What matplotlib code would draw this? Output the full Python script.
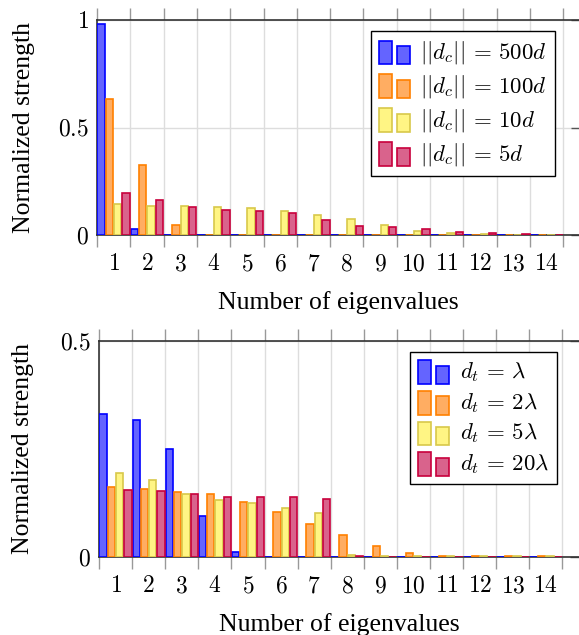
import numpy as np
import matplotlib
matplotlib.use('Agg')
import matplotlib.pyplot as plt
from matplotlib.patches import Rectangle
from matplotlib.legend_handler import HandlerBase

plt.rcParams['mathtext.fontset'] = 'cm'
plt.rcParams['font.family'] = ['Liberation Serif', 'DejaVu Serif']

# eigenvalue index
idx = np.arange(1, 15)

# top panel: different ||d_c||
dc_500 = [0.98, 0.026, 0.002, 0.001, 0.001, 0.001, 0.001, 0.001, 0.001, 0.001, 0.001, 0.001, 0.001, 0.001]
dc_100 = [0.631, 0.326, 0.048, 0.002, 0.002, 0.002, 0.002, 0.002, 0.002, 0.002, 0.002, 0.002, 0.002, 0.002]
dc_10 = [0.144, 0.136, 0.133, 0.130, 0.124, 0.112, 0.095, 0.074, 0.045, 0.017, 0.008, 0.003, 0.002, 0.002]
dc_5 = [0.197, 0.163, 0.129, 0.116, 0.112, 0.101, 0.070, 0.042, 0.039, 0.026, 0.016, 0.008, 0.003, 0.002]
top_labels = [r'$||d_c||\,=\,500d$', r'$||d_c||\,=\,100d$', r'$||d_c||\,=\,10d$', r'$||d_c||\,=\,5d$']

# bottom panel: different d_t
dt_1 = [0.332, 0.316, 0.249, 0.094, 0.012, 0.001, 0.001, 0.001, 0.001, 0.001, 0.001, 0.001, 0.001, 0.001]
dt_2 = [0.163, 0.158, 0.151, 0.145, 0.127, 0.104, 0.077, 0.050, 0.026, 0.0085, 0.002, 0.002, 0.002, 0.002]
dt_5 = [0.195, 0.179, 0.145, 0.133, 0.125, 0.114, 0.102, 0.005, 0.003, 0.003, 0.002, 0.002, 0.002, 0.002]
dt_20 = [0.154, 0.153, 0.146, 0.140, 0.139, 0.138, 0.135, 0.002, 0.001, 0.001, 0.001, 0.001, 0.001, 0.001]
bottom_labels = [r'$d_t\,=\,\lambda$', r'$d_t\,=\,2\lambda$', r'$d_t\,=\,5\lambda$', r'$d_t\,=\,20\lambda$']

face_colors = ['#6464ff', '#ffad62', '#fff584', '#d9638c']
edge_colors = ['#0000ff', '#ff8000', '#d8c84a', '#c8003c']


class TwoBarHandler(HandlerBase):
    # pgfplots style legend entry: two small bars
    def create_artists(self, legend, orig_handle, xdescent, ydescent,
                       width, height, fontsize, trans):
        fc = orig_handle.get_facecolor()
        ec = orig_handle.get_edgecolor()
        w = width * 0.42
        y0 = -ydescent - height * 0.25
        r1 = Rectangle((-xdescent, y0), w, height * 1.3, facecolor=fc,
                       edgecolor=ec, lw=1.2, transform=trans)
        r2 = Rectangle((-xdescent + width * 0.58, y0), w, height * 1.0,
                       facecolor=fc, edgecolor=ec, lw=1.2, transform=trans)
        return [r1, r2]


def draw_panel(ax, series, labels, ymax, yticks, yticklabels, legend_anchor):
    offsets = [-0.375, -0.125, 0.125, 0.375]
    handles = []
    for vals, off, fc, ec in zip(series, offsets, face_colors, edge_colors):
        bars = ax.bar(idx + off, vals, width=0.22, color=fc, edgecolor=ec,
                      linewidth=1.2, zorder=3)
        handles.append(bars.patches[0])

    ax.set_xlim(0.5, 15.0)
    ax.set_ylim(0, ymax)

    # grid lines / tick marks between groups, labels at group centres
    ax.set_xticks(np.arange(0.5, 15.0, 1.0))
    ax.set_xticklabels([])
    ax.set_xticks(idx, minor=True)
    ax.set_xticklabels(['$%d$' % i for i in idx], minor=True, fontsize=17)
    ax.tick_params(axis='x', which='major', direction='out', length=8.5,
                   width=1.0, color='#999999', top=True, bottom=True)
    ax.tick_params(axis='x', which='minor', length=0, pad=14)

    ax.set_yticks(yticks)
    ax.set_yticklabels(yticklabels, fontsize=17)
    ax.tick_params(axis='y', direction='in', length=6.5, width=1.0,
                   color='#555555', left=False, right=True, pad=6)

    ax.grid(True, axis='x', which='major', color='#dddddd', lw=1.0, zorder=0)
    ax.grid(True, axis='y', color='#dddddd', lw=1.0, zorder=0)
    ax.set_axisbelow(True)

    ax.spines['right'].set_visible(False)
    for s in ['top', 'bottom', 'left']:
        ax.spines[s].set_color('#333333')
        ax.spines[s].set_linewidth(1.2)

    ax.set_xlabel('Number of eigenvalues', fontsize=18.5, labelpad=11)
    ax.set_ylabel('Normalized strength', fontsize=18.5, va='center')

    leg = ax.legend(handles, labels, handler_map={Rectangle: TwoBarHandler()},
                    loc='upper right', bbox_to_anchor=legend_anchor,
                    bbox_transform=ax.transAxes, fontsize=16.5, fancybox=False,
                    framealpha=1, edgecolor='black', handlelength=1.35,
                    handleheight=0.85, handletextpad=0.45, labelspacing=0.3,
                    borderpad=0.35, borderaxespad=0)
    leg.get_frame().set_linewidth(1.0)
    return ax


fig = plt.figure(figsize=(5.79, 6.35), dpi=100)

ax1 = fig.add_axes([97 / 579, 400 / 635, 483 / 579, 215 / 635])
draw_panel(ax1, [dc_500, dc_100, dc_10, dc_5], top_labels, 1.0,
           [0, 0.5, 1], ['$0$', '$0.5$', '$1$'],
           ((555 - 97) / 483, (235 - 31) / 215))
ax1.yaxis.set_label_coords((24 - 97) / 483, 0.5)

ax2 = fig.add_axes([99 / 579, 78 / 635, 480 / 579, 216 / 635])
draw_panel(ax2, [dt_1, dt_2, dt_5, dt_20], bottom_labels, 0.5,
           [0, 0.5], ['$0$', '$0.5$'],
           ((557 - 99) / 480, (557 - 352) / 216))
ax2.yaxis.set_label_coords((23 - 99) / 480, 0.5)

fig.savefig('out.png', dpi=100)
